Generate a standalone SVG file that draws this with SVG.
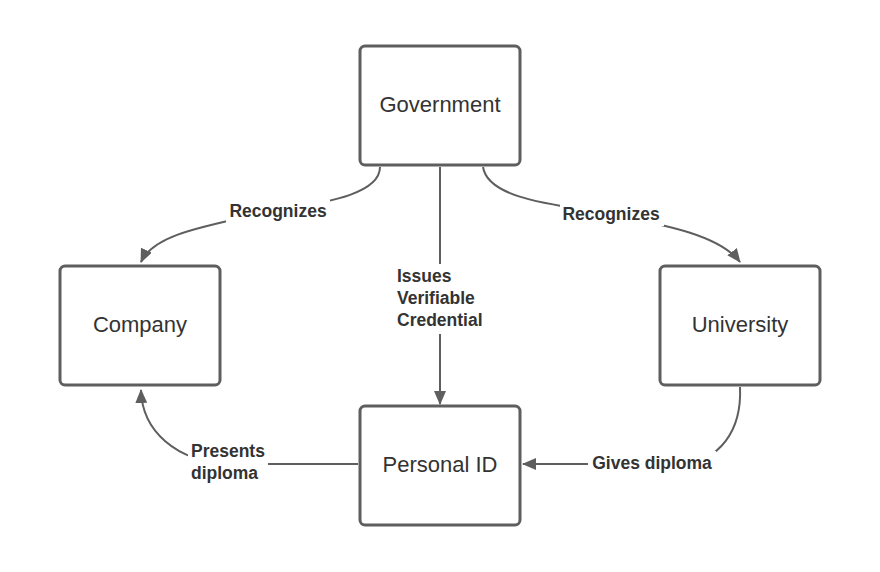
<svg xmlns="http://www.w3.org/2000/svg" width="880" height="572" viewBox="0 0 880 572">
<style>
.box{fill:#fff;stroke:#5e5e5e;stroke-width:3}
.t{font-family:"Liberation Sans",Arial,sans-serif;font-size:22px;fill:#333;text-anchor:middle}
.c{fill:none;stroke:#5e5e5e;stroke-width:2}
.l{font-family:"Liberation Sans",Arial,sans-serif;font-size:17.5px;font-weight:bold;fill:#333}
.bg{fill:#fff}
</style>
<defs>
<marker id="a" markerWidth="14" markerHeight="12" refX="13" refY="6" orient="auto" markerUnits="userSpaceOnUse">
<path d="M0,0 L14,6 L0,12 Z" fill="#5e5e5e"/>
</marker>
</defs>
<rect width="880" height="572" fill="#fff"/>
<g id="connectors">
<path class="c" d="M380,167 C380,200 300,205 250,216 C190,229 152,238 141,262" marker-end="url(#a)"/>
<path class="c" d="M483,167 C488,200 560,205 610,214 C670,226 720,236 740,262" marker-end="url(#a)"/>
<path class="c" d="M440,167 L440,404" marker-end="url(#a)"/>
<path class="c" d="M740,387 C742,430 720,462 680,464 L523,464" marker-end="url(#a)"/>
<path class="c" d="M358,464 L230,464 C175,462 142,430 141,390" marker-end="url(#a)"/>
<rect class="bg" x="226" y="199" width="104" height="24"/>
<text class="l" x="278" y="217" text-anchor="middle">Recognizes</text>
<rect class="bg" x="560" y="202" width="104" height="24"/>
<text class="l" x="611" y="220" text-anchor="middle">Recognizes</text>
<rect class="bg" x="393" y="264" width="94" height="70"/>
<text class="l" x="397" y="282">Issues</text>
<text class="l" x="397" y="304">Verifiable</text>
<text class="l" x="397" y="326">Credential</text>
<rect class="bg" x="588" y="451" width="128" height="24"/>
<text class="l" x="652" y="469" text-anchor="middle">Gives diploma</text>
<rect class="bg" x="188" y="439" width="80" height="46"/>
<text class="l" x="191" y="457">Presents</text>
<text class="l" x="191" y="479">diploma</text>
</g>
<g id="government">
<rect class="box" x="360" y="46" width="160" height="119" rx="5"/>
<text class="t" x="440" y="112">Government</text>
</g>
<g id="company">
<rect class="box" x="60" y="266" width="160" height="119" rx="5"/>
<text class="t" x="140" y="332">Company</text>
</g>
<g id="university">
<rect class="box" x="660" y="266" width="160" height="119" rx="5"/>
<text class="t" x="740" y="332">University</text>
</g>
<g id="personal-id">
<rect class="box" x="360" y="406" width="160" height="119" rx="5"/>
<text class="t" x="440" y="472">Personal ID</text>
</g>
</svg>
